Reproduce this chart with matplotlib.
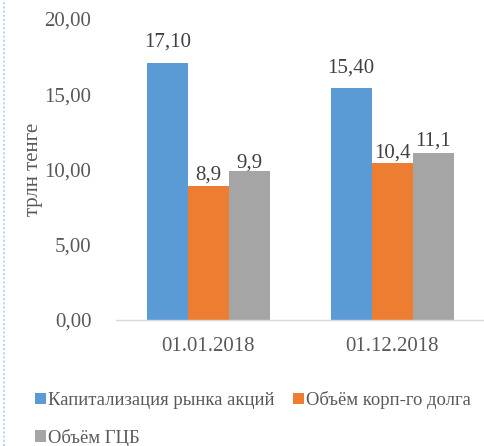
import matplotlib.pyplot as plt
from matplotlib.lines import Line2D
import numpy as np

plt.rcParams['font.family'] = 'serif'
plt.rcParams['font.serif'] = ['Liberation Serif', 'DejaVu Serif']

# Data
dates = ['01.01.2018', '01.12.2018']
series = ['Капитализация рынка акций', 'Объём корп-го долга', 'Объём ГЦБ']
cap = [17.10, 15.40]
corp = [8.9, 10.4]
gcb = [9.9, 11.1]
value_labels = [['17,10', '15,40'], ['8,9', '10,4'], ['9,9', '11,1']]
yticks = [0, 5, 10, 15, 20]

# label gap above bar top (pixels), as placed in the original
label_gaps = [[16, 16], [7, 6], [3, 7]]

colors = ['#5B9BD5', '#ED7D31', '#A5A5A5']
text_color = '#595959'

fig = plt.figure(figsize=(4.84, 4.46), dpi=100)
ax = fig.add_axes([0.2407, 0.2825, 0.7593, 0.6749])

x = np.arange(len(dates))
w = 0.2228
handles = []
for i, vals in enumerate([cap, corp, gcb]):
    bars = ax.bar(x + (i - 1) * w, vals, w, color=colors[i], label=series[i])
    handles.append(bars)
    for b, lab, gap in zip(bars, value_labels[i], label_gaps[i]):
        ax.annotate(lab, (b.get_x() + b.get_width() / 2, b.get_height()),
                    xytext=(0, gap), textcoords='offset pixels',
                    ha='center', va='baseline', fontsize=15, color='#404040')

ax.set_xlim(-0.5, 1.5)
ax.set_ylim(0, 20)
ax.set_yticks(yticks)
ax.set_yticklabels([('%.2f' % t).replace('.', ',') for t in yticks])
ax.set_xticks(x)
ax.set_xticklabels(dates)
ax.tick_params(length=0, labelsize=15, colors=text_color)
ax.tick_params(axis='x', pad=12)
ax.tick_params(axis='y', pad=18)
for s in ['top', 'right', 'left']:
    ax.spines[s].set_visible(False)
ax.spines['bottom'].set_color('#D9D9D9')
ax.spines['bottom'].set_linewidth(1)

ax.set_ylabel('трлн тенге', fontsize=15, color=text_color)
ax.yaxis.set_label_coords(-0.2, 0.5)

# row-wise order for a 2-column legend
order = [0, 2, 1]
fig.legend([handles[i] for i in order], [series[i] for i in order],
           loc='upper left', bbox_to_anchor=(0.056, 0.14), ncol=2, frameon=False,
           fontsize=13.4, handlelength=0.6, handleheight=0.6, handletextpad=0.12,
           columnspacing=1.0, labelspacing=1.05, labelcolor=text_color,
           borderaxespad=0)

# dotted frame edge on the left
fig.add_artist(Line2D([4 / 484, 4 / 484], [0, 1], transform=fig.transFigure,
                      color='#BDD7EE', linestyle=(0, (1, 1)), linewidth=1.5))

fig.savefig('out.png', dpi=100)
